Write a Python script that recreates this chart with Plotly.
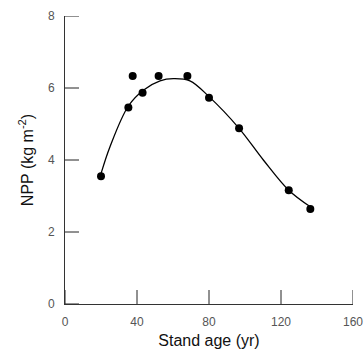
import plotly.graph_objects as go

# Observed data points
age = [20, 35.2, 37.6, 43.1, 52, 68, 80, 96.7, 124.3, 136.3]
npp = [3.55, 5.46, 6.33, 5.87, 6.33, 6.33, 5.73, 4.88, 3.16, 2.64]

# Fitted curve
fit_age = [20, 25, 35.2, 43.5, 52.8, 60.2, 69.4, 80, 96.7, 110.2, 124.3, 136.3]
fit_npp = [3.62, 4.37, 5.5, 5.94, 6.2, 6.26, 6.2, 5.76, 4.88, 4.0, 3.16, 2.7]

x_ticks = [0, 40, 80, 120, 160]
y_ticks = [0, 2, 4, 6, 8]

fig = go.Figure()
fig.add_trace(go.Scatter(x=fit_age, y=fit_npp, mode="lines",
                         line=dict(color="black", width=1.3, shape="spline", smoothing=1.0),
                         hoverinfo="skip", showlegend=False))
fig.add_trace(go.Scatter(x=age, y=npp, mode="markers",
                         marker=dict(color="black", size=8),
                         showlegend=False))

# inward tick marks: line markers centred on the axes, outer half clipped away
fig.add_trace(go.Scatter(x=x_ticks, y=[0] * len(x_ticks), mode="markers", cliponaxis=True,
                         marker=dict(symbol="line-ns", size=20, line=dict(color="#222", width=1)),
                         hoverinfo="skip", showlegend=False))
fig.add_trace(go.Scatter(x=[0] * len(y_ticks), y=y_ticks, mode="markers", cliponaxis=True,
                         marker=dict(symbol="line-ew", size=20, line=dict(color="#222", width=1)),
                         hoverinfo="skip", showlegend=False))

font = "Liberation Sans, Arial"
axis_common = dict(showgrid=False, zeroline=False, showline=True, linecolor="#333",
                   linewidth=1, ticks="outside", ticklen=7, tickcolor="rgba(0,0,0,0)",
                   automargin=False,
                   tickfont=dict(family=font, size=12, color="#555"))

fig.update_xaxes(range=[0, 160], tickvals=x_ticks, **axis_common,
                 title=dict(text="Stand age (yr)", font=dict(family=font, size=16, color="#111"), standoff=6))
fig.update_yaxes(range=[0, 8], tickvals=y_ticks, **axis_common,
                 title=dict(text="NPP (kg m<sup>-2</sup>)", font=dict(family=font, size=16, color="#111"), standoff=10))

fig.update_layout(width=364, height=356, margin=dict(l=65, r=11, t=16, b=52),
                  plot_bgcolor="white", paper_bgcolor="white")
fig.write_html("out.html", config={"displayModeBar": False},
               post_script="document.body.style.margin='0';document.body.style.overflow='hidden';")
